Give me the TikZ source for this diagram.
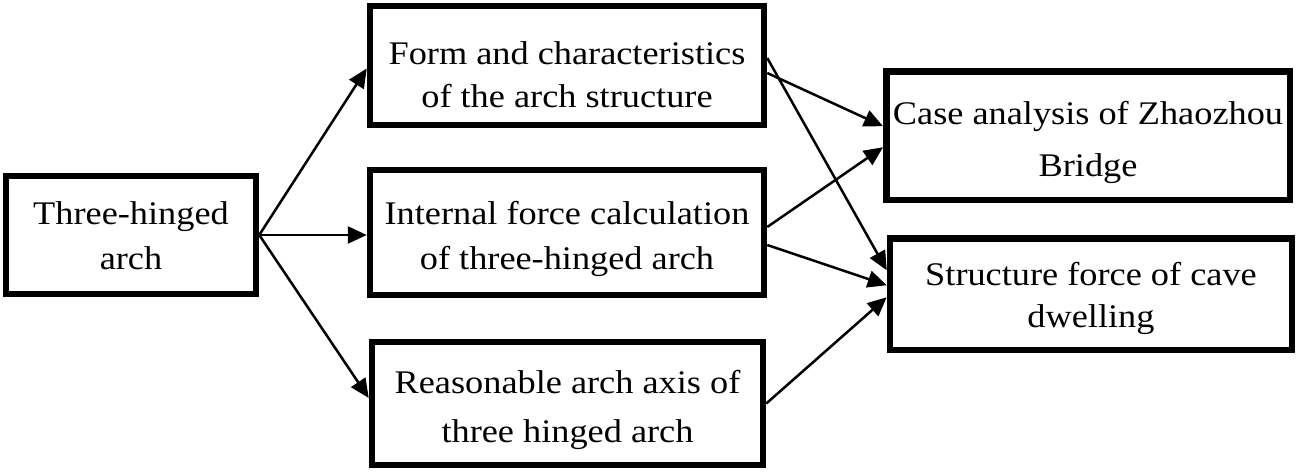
\documentclass[tikz,border=0pt]{standalone}
\usepackage{fontspec}
\setmainfont{Liberation Serif}[FakeStretch=1.1]
\usetikzlibrary{arrows.meta}
\newcommand\twoline[3]{\vtop{\baselineskip=#1pt\lineskiplimit=-100pt\halign{\hfil##\hfil\cr#2\cr#3\cr}}}
\begin{document}
\begin{tikzpicture}[x=1pt,y=-1pt,
  box/.style={draw, line width=6.5pt, inner sep=0pt, anchor=base,
    font=\fontsize{33pt}{45pt}\selectfont},
  conn/.style={line width=2.5pt, -{Triangle[length=19pt,width=17pt]}}]
\useasboundingbox[fill=white] (0,0) rectangle (1304,473);
\node[box, minimum width=250pt, text height=49pt, text depth=69pt] (a) at (131,225)
  {\twoline{45}{Three-hinged}{arch}};
\node[box, minimum width=394pt, text height=59pt, text depth=60pt] (b2) at (567,65)
  {\twoline{43}{Form and characteristics}{of the arch structure}};
\node[box, minimum width=394pt, text height=55pt, text depth=70pt] (b3) at (567,225)
  {\twoline{45}{Internal force calculation}{of three-hinged arch}};
\node[box, minimum width=391pt, text height=51pt, text depth=72pt] (b4) at (567.5,393)
  {\twoline{49}{Reasonable arch axis of}{three hinged arch}};
\node[box, minimum width=403.5pt, text height=53.5pt, text depth=75pt] (c) at (1088,125)
  {\twoline{52}{Case analysis of Zhaozhou}{Bridge}};
\node[box, minimum width=402pt, text height=46.5pt, text depth=65pt] (d) at (1091,285)
  {\twoline{43}{Structure force of cave}{dwelling}};
\draw[conn] (a.east) -- ([yshift=-3pt]b2.west);
\draw[conn] (a.east) -- (a.east -| b3.west);
\draw[conn] (a.east) -- ([yshift=5.5pt]b4.west);
\draw[conn] ([yshift=-7.5pt]b2.east) -- ([yshift=9.5pt]c.west);
\draw[conn] ([yshift=7.5pt]b2.east) -- ([yshift=24pt]d.west);
\draw[conn] ([yshift=5.5pt]b3.east) -- ([yshift=-11.5pt]c.west);
\draw[conn] ([yshift=-12.5pt]b3.east) -- ([yshift=9pt]d.west);
\draw[conn] (b4.east) -- ([yshift=-3pt]d.west);
\end{tikzpicture}
\end{document}
